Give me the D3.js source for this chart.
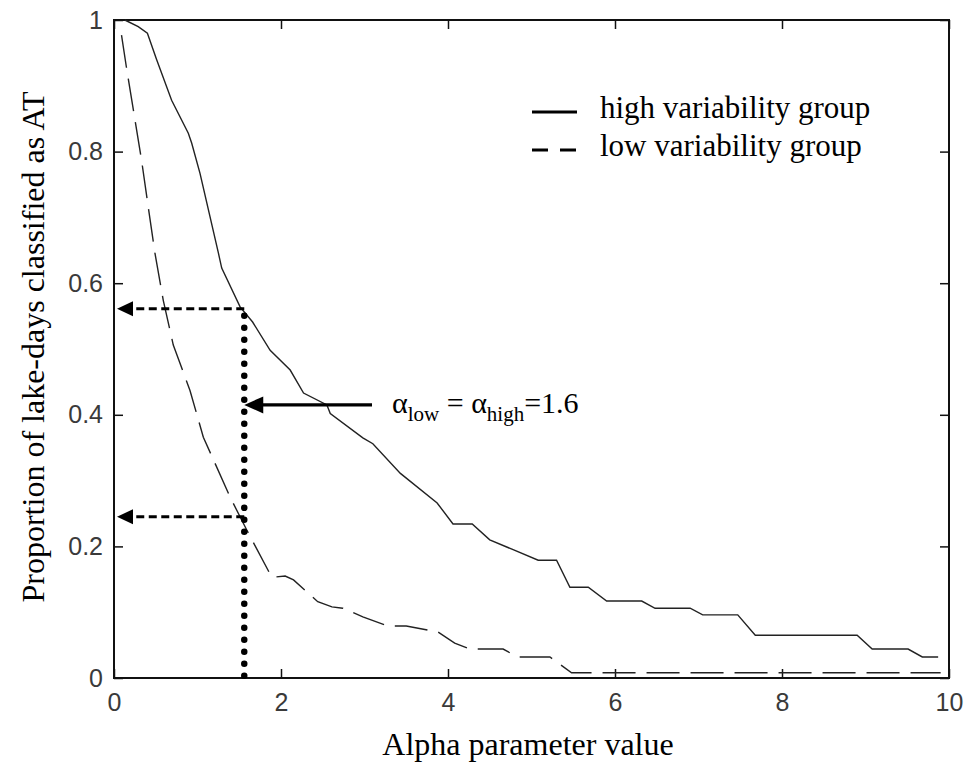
<!DOCTYPE html>
<html>
<head>
<meta charset="utf-8">
<script src="https://cdn.jsdelivr.net/npm/d3@7"></script>
<style>
  body { margin: 0; background: #fff; }
</style>
</head>
<body>
<script>
var wd = 970
var ht = 770

// tick values
var xTicks = [0, 2, 4, 6, 8, 10]
var yTicks = [0, 0.2, 0.4, 0.6, 0.8, 1]

// [alpha, proportion]
var highGroup = [[0.13,1.0],[0.29,0.99],[0.4,0.98],[0.51,0.94],[0.69,0.878],[0.89,0.828],[0.93,0.813],
  [1.03,0.767],[1.25,0.646],[1.29,0.623],[1.51,0.564],[1.66,0.541],[1.87,0.498],[2.11,0.468],
  [2.27,0.433],[2.55,0.415],[2.59,0.402],[2.98,0.365],[3.1,0.356],[3.43,0.311],[3.87,0.266],
  [4.06,0.234],[4.29,0.234],[4.5,0.21],[4.78,0.195],[5.08,0.179],[5.3,0.179],[5.46,0.138],
  [5.68,0.138],[5.9,0.117],[6.32,0.117],[6.48,0.106],[6.9,0.106],[7.05,0.096],[7.47,0.096],
  [7.68,0.065],[8.9,0.065],[9.08,0.044],[9.51,0.044],[9.68,0.032],[9.87,0.032]]

var lowGroup = [[0.09,0.977],[0.15,0.927],[0.33,0.787],[0.41,0.716],[0.49,0.646],[0.59,0.574],
  [0.71,0.506],[0.91,0.437],[1.07,0.366],[1.39,0.275],[1.59,0.225],[1.89,0.153],[2.05,0.155],
  [2.15,0.149],[2.44,0.116],[2.61,0.108],[2.74,0.106],[2.98,0.093],[3.28,0.079],[3.5,0.079],
  [3.88,0.07],[4.08,0.053],[4.26,0.044],[4.66,0.044],[4.83,0.032],[5.22,0.032],[5.48,0.008],
  [9.9,0.008]]

var legendNames = ["high variability group", "low variability group"]

// annotation
var alphaMark = 1.56
var propHigh = 0.561
var propLow = 0.245
var arrowProp = 0.415

var margin = {left: 114, right: 21, top: 20, bottom: 92}

var svgCont = d3.select("body").append("svg")
  .attr("width", wd)
  .attr("height", ht)

var x = d3.scaleLinear().domain([0, 10]).range([margin.left, wd - margin.right])
var y = d3.scaleLinear().domain([0, 1]).range([ht - margin.bottom, margin.top])

var serif = "'Liberation Serif', 'Times New Roman', serif"
var sans = "'Liberation Sans', Arial, sans-serif"

var fmt = function(d) { return String(+d.toFixed(1)) }

// axes, ticks pointing inward
svgCont.append("g")
  .attr("transform", "translate(0," + y(0) + ")")
  .call(d3.axisBottom(x).tickValues(xTicks).tickSize(-9).tickSizeOuter(0).tickPadding(15).tickFormat(fmt))
svgCont.append("g")
  .attr("transform", "translate(" + x(0) + ",0)")
  .call(d3.axisLeft(y).tickValues(yTicks).tickSize(-9).tickSizeOuter(0).tickPadding(11).tickFormat(fmt))
svgCont.append("g")
  .attr("transform", "translate(0," + y(1) + ")")
  .call(d3.axisTop(x).tickValues(xTicks).tickSize(-9).tickSizeOuter(0).tickFormat(""))
svgCont.append("g")
  .attr("transform", "translate(" + x(10) + ",0)")
  .call(d3.axisRight(y).tickValues(yTicks).tickSize(-9).tickSizeOuter(0).tickFormat(""))

svgCont.selectAll(".domain").remove()
svgCont.selectAll(".tick line").attr("stroke", "#111").attr("stroke-width", 1.5)
svgCont.selectAll(".tick text")
  .attr("font-family", sans)
  .attr("font-size", 25)
  .attr("fill", "#3a3a3a")

svgCont.append("rect")
  .attr("x", x(0)).attr("y", y(1))
  .attr("width", x(10) - x(0)).attr("height", y(0) - y(1))
  .attr("fill", "none").attr("stroke", "#111").attr("stroke-width", 2)

// curves
var line = d3.line().x(function(d) { return x(d[0]) }).y(function(d) { return y(d[1]) })

svgCont.append("path")
  .attr("d", line(highGroup))
  .attr("fill", "none").attr("stroke", "#222").attr("stroke-width", 1.4)

svgCont.append("path")
  .attr("d", line(lowGroup))
  .attr("fill", "none").attr("stroke", "#222").attr("stroke-width", 1.4)
  .attr("stroke-dasharray", "33,11")

// dotted vertical at alpha
svgCont.append("line")
  .attr("x1", x(alphaMark)).attr("x2", x(alphaMark))
  .attr("y1", y(propHigh) + 7).attr("y2", y(0) + 1)
  .attr("stroke", "#000").attr("stroke-width", 6.5)
  .attr("stroke-linecap", "round").attr("stroke-dasharray", "0,12")

// dashed arrows to the y axis
function arrowHead(tipX, tipY, len, half) {
  return "M" + tipX + "," + tipY + "L" + (tipX + len) + "," + (tipY - half) +
    "L" + (tipX + len) + "," + (tipY + half) + "Z"
}

;[propHigh, propLow].forEach(function(p) {
  var tip = x(0) + 3
  svgCont.append("line")
    .attr("x1", x(alphaMark)).attr("x2", tip + 14)
    .attr("y1", y(p)).attr("y2", y(p))
    .attr("stroke", "#000").attr("stroke-width", 3)
    .attr("stroke-dasharray", "8,4.5")
  svgCont.append("path")
    .attr("d", arrowHead(tip, y(p), 16, 7.5))
    .attr("fill", "#000")
})

// label box with solid arrow
var boxG = svgCont.append("g")
var box = boxG.append("rect").attr("fill", "#fff")
var label = boxG.append("text")
  .attr("x", 392).attr("y", y(arrowProp) + 8)
  .attr("font-family", serif).attr("font-size", 30).attr("fill", "#000")
label.append("tspan").text("α")
label.append("tspan").attr("font-size", 21).attr("dy", 8).text("low")
label.append("tspan").attr("dy", -8).text(" = α")
label.append("tspan").attr("font-size", 21).attr("dy", 8).text("high")
label.append("tspan").attr("dy", -8).text("=1.6")

var bb = label.node().getBBox()
box.attr("x", bb.x - 20).attr("y", bb.y - 10)
  .attr("width", bb.width + 42).attr("height", bb.height + 14)

svgCont.append("line")
  .attr("x1", bb.x - 20).attr("x2", x(alphaMark) + 15)
  .attr("y1", y(arrowProp)).attr("y2", y(arrowProp))
  .attr("stroke", "#000").attr("stroke-width", 3.3)
svgCont.append("path")
  .attr("d", arrowHead(x(alphaMark), y(arrowProp), 19, 8.5))
  .attr("fill", "#000")

// legend
var legend = svgCont.append("g")
legendNames.forEach(function(name, i) {
  var ly = 112 + i * 38
  legend.append("line")
    .attr("x1", 532).attr("x2", 577)
    .attr("y1", ly).attr("y2", ly)
    .attr("stroke", "#000").attr("stroke-width", 3)
    .attr("stroke-dasharray", i == 0 ? null : "16,12")
  legend.append("text")
    .attr("x", 600).attr("y", 118 + i * 38)
    .attr("font-family", serif).attr("font-size", 31)
    .text(name)
})

// axis titles
svgCont.append("text")
  .attr("x", 528).attr("y", 755)
  .attr("text-anchor", "middle")
  .attr("font-family", serif).attr("font-size", 32)
  .text("Alpha parameter value")

svgCont.append("text")
  .attr("transform", "translate(44," + 347 + ") rotate(-90)")
  .attr("text-anchor", "middle")
  .attr("font-family", serif).attr("font-size", 32)
  .text("Proportion of lake-days classified as AT")
</script>
</body>
</html>
